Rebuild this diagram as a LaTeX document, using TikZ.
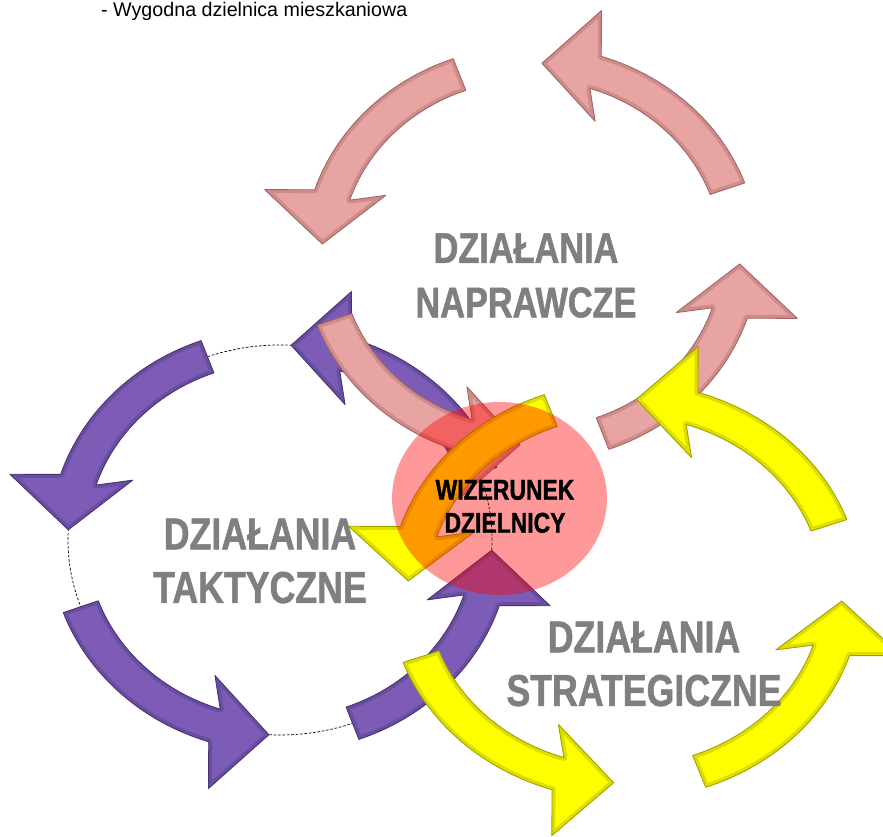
\documentclass[tikz,border=0pt]{standalone}
\usepackage{fontspec}
\setmainfont{Liberation Sans}
\newfontfamily\narrowbold[FakeStretch=0.8, FakeBold=1.2]{Liberation Sans Bold}
\usepackage{xcolor}
\usepackage{tikz}
\usetikzlibrary{shapes.geometric}

\definecolor{labelgray}{RGB}{127,127,127}
\definecolor{taktfill}{RGB}{124,92,182}
\definecolor{taktedge}{RGB}{72,50,118}
\definecolor{naprfill}{RGB}{232,164,162}
\definecolor{napredge}{RGB}{160,100,98}
\definecolor{stratfill}{RGB}{255,255,0}
\definecolor{stratedge}{RGB}{160,160,0}

\tikzset{
  bigLabel/.style={font=\narrowbold\fontsize{24.4}{31}\selectfont,
    text=labelgray, align=center, inner sep=0pt},
  wideLabel/.style={bigLabel, font=\narrowbold\fontsize{25.4}{30.5}\selectfont},
  coreLabel/.style={font=\narrowbold\fontsize{16.3}{18.8}\selectfont,
    text=black, align=center, inner sep=0pt},
  coreshape/.style={ellipse, fill=red, fill opacity=0.4, inner sep=0pt,
    minimum width=4.3cm, minimum height=3.86cm},
}

% one curved arrow on the unit circle, from \tailang to \tipang
\newcommand{\arrowshape}{(\tailang:1.088) arc[start angle=\tailang, end angle=\tipang-15, radius=1.088]
  -- ({cos(\tipang)*1.29+sin(\tipang)*0.27},{sin(\tipang)*1.29-cos(\tipang)*0.27})
  -- (\tipang:1)
  -- ({cos(\tipang)*0.71+sin(\tipang)*0.27},{sin(\tipang)*0.71-cos(\tipang)*0.27})
  -- (\tipang-15:0.912) arc[start angle=\tipang-15, end angle=\tailang, radius=0.912] -- cycle}

% four of them, counterclockwise, with a dark rim
\newcommand{\cyclearrows}[2]{%
  \foreach \tailang in {20,110,200,290}{%
    \pgfmathsetmacro\tipang{\tailang+67}%
    \fill[#1] \arrowshape;
    \begin{scope}
      \clip \arrowshape;
      \draw[#2, draw opacity=0.35, line width=4pt, line join=round] \arrowshape;
    \end{scope}
    \draw[#2, line width=0.5pt, line join=round] \arrowshape;
  }%
}

\begin{document}
\begin{tikzpicture}[x=0.02cm, y=0.02cm]
  \useasboundingbox (0,0) rectangle (883,836);
  \clip (0,0) rectangle (883,836);
  % tactical cycle
  \draw[dash pattern=on 1.5pt off 1pt, line width=0.4pt] (280,296) ellipse [x radius=212, y radius=195];
  \begin{scope}[shift={(280,296)}, xscale=212, yscale=195]
    \cyclearrows{taktfill}{taktedge}
  \end{scope}
  % corrective cycle
  \begin{scope}[shift={(531,582)}, xscale=209, yscale=191]
    \cyclearrows{naprfill}{napredge}
  \end{scope}
  % strategic cycle
  \begin{scope}[shift={(625,245)}, xscale=217, yscale=192]
    \cyclearrows{stratfill}{stratedge}
  \end{scope}
  \node[coreshape] (core) at (499.5,337.5) {};
  \node[anchor=base west, font=\fontsize{11.2}{13}\selectfont] (note) at (95,819) {- Wygodna dzielnica mieszkaniowa};
  \node[bigLabel] (naprawcze) at (526,560.5) {DZIAŁANIA\\NAPRAWCZE};
  \node[wideLabel] (taktyczne) at (260,275) {DZIAŁANIA\\TAKTYCZNE};
  \node[wideLabel] (strategiczne) at (644,172) {DZIAŁANIA\\STRATEGICZNE};
  \node[coreLabel] (wizerunek) at (505,329.5) {WIZERUNEK\\DZIELNICY};
\end{tikzpicture}
\end{document}
